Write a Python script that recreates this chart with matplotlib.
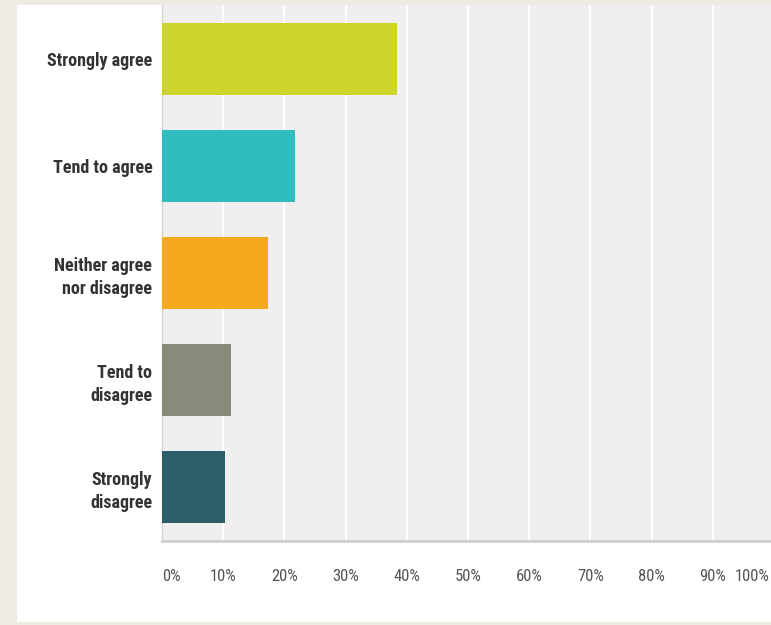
import matplotlib.pyplot as plt
import matplotlib.transforms as mtransforms

categories = ["Strongly agree", "Tend to agree", "Neither agree\nnor disagree",
              "Tend to\ndisagree", "Strongly\ndisagree"]
values = [0.384, 0.217, 0.173, 0.113, 0.103]
colors = ['#cdd42a', '#31bcbd', '#f7a91e', '#8a8a7b', '#2c5d69']
ticks = [i / 10 for i in range(11)]
tick_labels = [f"{i * 10}%" for i in range(11)]

narrow = ['Roboto Condensed', 'DejaVu Sans']

fig = plt.figure(figsize=(7.71, 6.25), dpi=100)
fig.patch.set_facecolor('#edebe2')

# white panel behind the chart
panel = fig.add_axes([17 / 771, 3 / 625, 1 - 17 / 771, 617 / 625], zorder=0)
panel.set_facecolor('white')
panel.set_xticks([])
panel.set_yticks([])
for s in panel.spines.values():
    s.set_visible(False)

ax = fig.add_axes([162 / 771, 84 / 625, 612 / 771, 536 / 625], zorder=1)
ax.set_facecolor('#efefef')

y = range(len(categories))
ax.barh(y, values, height=0.67, color=colors, zorder=3)

ax.set_xlim(0, 1)
ax.set_ylim(4.5, -0.5)
ax.set_xticks(ticks)
ax.set_xticklabels(tick_labels, fontsize=12, color='#555555', family=narrow)
ax.set_yticks(list(y))
ax.set_yticklabels(categories, fontsize=13, fontweight='bold', color='#333333',
                   family=narrow, linespacing=1.35)
ax.tick_params(axis='x', length=0, pad=20)
ax.tick_params(axis='y', length=0, pad=7)
ax.grid(axis='x', color='white', linewidth=1.5, zorder=1)
ax.grid(axis='y', visible=False)

# first and last tick labels pushed inside like the original
xl = ax.get_xticklabels()
xl[0].set_horizontalalignment('left')
xl[-1].set_horizontalalignment('right')
xl[-1].set_transform(xl[-1].get_transform() +
                     mtransforms.ScaledTranslation(-4 / 100, 0, fig.dpi_scale_trans))

for s in ['top', 'right']:
    ax.spines[s].set_visible(False)
ax.spines['left'].set_color('#d4d4d4')
ax.spines['left'].set_linewidth(1)
ax.spines['bottom'].set_color('#cfcfcf')
ax.spines['bottom'].set_linewidth(2)

fig.savefig('out.png', dpi=100, facecolor=fig.get_facecolor())
